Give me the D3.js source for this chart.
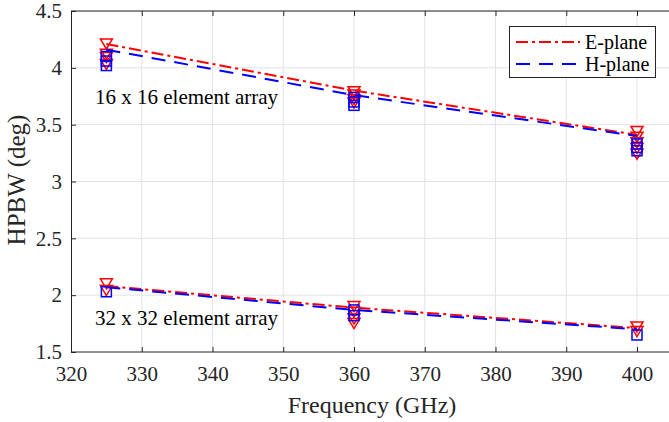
<!DOCTYPE html>
<html>
<head>
<meta charset="utf-8">
<script src="https://cdn.jsdelivr.net/npm/d3@7"></script>
<style>
  body { margin: 0; background: #fff; }
  svg { display: block; font-family: "Liberation Serif", "Times New Roman", serif; }
</style>
</head>
<body>
<svg id="chart" width="669" height="422"></svg>
<script>
// axis ticks
var xTicks = [320, 330, 340, 350, 360, 370, 380, 390, 400];
var yTicks = [1.5, 2, 2.5, 3, 3.5, 4, 4.5];
var freqs = [325, 360, 400];

// fitted lines (one per plane and per array size)
var ePlane16 = [4.21, 3.80, 3.41];
var hPlane16 = [4.16, 3.76, 3.40];
var ePlane32 = [2.08, 1.89, 1.71];
var hPlane32 = [2.07, 1.87, 1.70];

// measured points, [freq, value]
var eMarkers = [
  [325, 4.21], [325, 4.12], [325, 4.09], [325, 4.03],
  [360, 3.79], [360, 3.76], [360, 3.72], [360, 3.69],
  [400, 3.44], [400, 3.39], [400, 3.34], [400, 3.29], [400, 3.24],
  [325, 2.10], [325, 2.04],
  [360, 1.90], [360, 1.85], [360, 1.79], [360, 1.75],
  [400, 1.72], [400, 1.68]
];
var hMarkers = [
  [325, 4.10], [325, 4.06], [325, 4.02],
  [360, 3.74], [360, 3.70], [360, 3.67],
  [400, 3.33], [400, 3.30], [400, 3.27],
  [325, 2.03],
  [360, 1.87], [360, 1.82],
  [400, 1.65]
];

var svg = d3.select("#chart");
var x = d3.scaleLinear().domain([320, 410]).range([71, 707.75]);
var y = d3.scaleLinear().domain([1.5, 4.5]).range([352, 11]);

var axisColor = "#262626";
var serif = "Liberation Serif, Times New Roman, serif";

// grid
svg.append("g").selectAll("line").data(xTicks.slice(1)).enter().append("line")
  .attr("x1", d => x(d)).attr("x2", d => x(d))
  .attr("y1", y(1.5)).attr("y2", y(4.5))
  .attr("stroke", "#e3e3e3").attr("stroke-width", 1);
svg.append("g").selectAll("line").data(yTicks.slice(1)).enter().append("line")
  .attr("x1", x(320)).attr("x2", 669)
  .attr("y1", d => y(d)).attr("y2", d => y(d))
  .attr("stroke", "#e3e3e3").attr("stroke-width", 1);

// axes
var xAxis = svg.append("g").attr("transform", "translate(0," + y(1.5) + ")")
  .call(d3.axisBottom(x).tickValues(xTicks).tickSizeInner(-5).tickSizeOuter(0).tickPadding(14));
var xTop = svg.append("g").attr("transform", "translate(0," + y(4.5) + ")")
  .call(d3.axisTop(x).tickValues(xTicks).tickSizeInner(-5).tickSizeOuter(0).tickFormat(""));
var yAxis = svg.append("g").attr("transform", "translate(" + x(320) + ",0)")
  .call(d3.axisLeft(y).tickValues(yTicks).tickSizeInner(-5).tickSizeOuter(0).tickPadding(9)
    .tickFormat(d3.format("")));
[xAxis, xTop, yAxis].forEach(function(g) {
  g.attr("font-family", serif);
  g.select(".domain").attr("stroke", axisColor).attr("stroke-width", 1);
  g.selectAll(".tick line").attr("stroke", axisColor);
  g.selectAll("text").attr("fill", axisColor).attr("font-size", 21);
});
xAxis.select(".domain").attr("d", "M71,0H669");
xTop.select(".domain").attr("d", "M71,0H669");

// lines
var line = d3.line().x(function(d, i) { return x(freqs[i]); }).y(function(d) { return y(d); });
var lineStyles = [
  { data: ePlane16, color: "#ff0000", dash: "12,4,3,4" },
  { data: hPlane16, color: "#0000ff", dash: "14,9" },
  { data: ePlane32, color: "#ff0000", dash: "12,4,3,4" },
  { data: hPlane32, color: "#0000ff", dash: "14,9" }
];

// markers
var tri = "M-6,-5L6,-5L0,5Z";
svg.append("g").selectAll("path").data(eMarkers).enter().append("path")
  .attr("d", tri)
  .attr("transform", d => "translate(" + x(d[0]) + "," + y(d[1]) + ")")
  .attr("fill", "none").attr("stroke", "#ff0000").attr("stroke-width", 1.5);
svg.append("g").selectAll("rect").data(hMarkers).enter().append("rect")
  .attr("x", d => x(d[0]) - 5).attr("y", d => y(d[1]) - 5)
  .attr("width", 10).attr("height", 10)
  .attr("fill", "none").attr("stroke", "#0000ff").attr("stroke-width", 1.5);

svg.append("g").selectAll("path").data(lineStyles).enter().append("path")
  .attr("d", d => line(d.data))
  .attr("fill", "none").attr("stroke", d => d.color)
  .attr("stroke-width", 2).attr("stroke-dasharray", d => d.dash);

// annotations
svg.append("text").attr("x", 95).attr("y", 104).attr("font-size", 21).attr("fill", "#000")
  .text("16 x 16 element array");
svg.append("text").attr("x", 95).attr("y", 325).attr("font-size", 21).attr("fill", "#000")
  .text("32 x 32 element array");

// axis titles
svg.append("text").attr("x", 372).attr("y", 413).attr("text-anchor", "middle")
  .attr("font-size", 24).attr("fill", axisColor).text("Frequency (GHz)");
svg.append("text").attr("transform", "translate(25,180) rotate(-90)").attr("text-anchor", "middle")
  .attr("font-size", 25).attr("fill", axisColor).text("HPBW (deg)");

// legend
var legend = svg.append("g");
legend.append("rect").attr("x", 509.5).attr("y", 26.5).attr("width", 146).attr("height", 51)
  .attr("fill", "#fff").attr("stroke", axisColor).attr("stroke-width", 1);
var legendItems = [
  { label: "E-plane", color: "#ff0000", dash: "12,4,3,4" },
  { label: "H-plane", color: "#0000ff", dash: "14,9" }
];
legend.selectAll("g").data(legendItems).enter().append("g")
  .attr("transform", (d, i) => "translate(0," + (42 + i * 22) + ")")
  .each(function(d) {
    var g = d3.select(this);
    g.append("line").attr("x1", 516).attr("x2", 580).attr("y1", 0).attr("y2", 0)
      .attr("stroke", d.color).attr("stroke-width", 2).attr("stroke-dasharray", d.dash);
    g.append("text").attr("x", 585).attr("y", 7).attr("font-size", 20).attr("fill", "#000")
      .text(d.label);
  });
</script>
</body>
</html>
